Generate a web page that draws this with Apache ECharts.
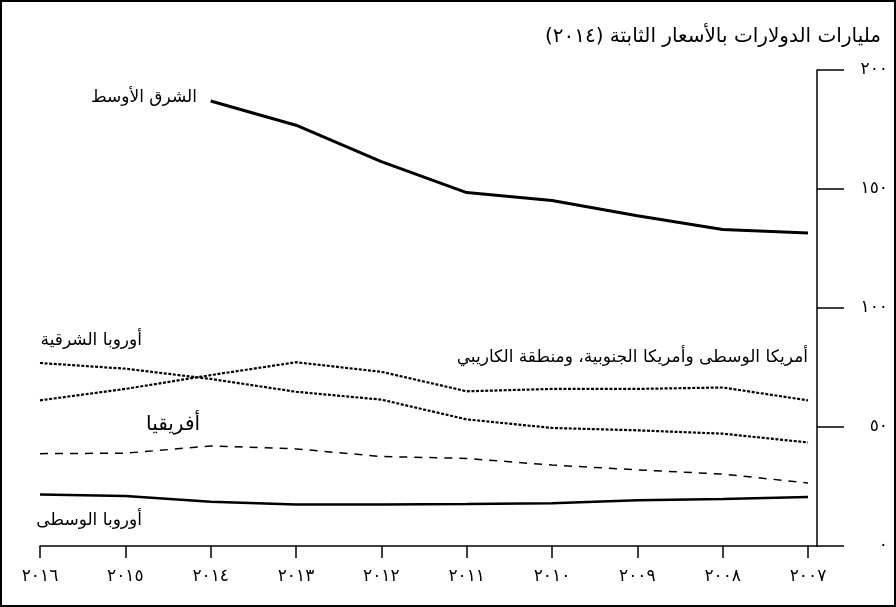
<!DOCTYPE html>
<html lang="ar">
<head>
<meta charset="utf-8">
<script src="https://cdn.jsdelivr.net/npm/echarts@6/dist/echarts.min.js"></script>
<style>
html,body{margin:0;padding:0;background:#fff;}
#chart{width:896px;height:607px;direction:rtl;}
</style>
</head>
<body>
<div id="chart" dir="rtl"></div>
<script>
// ---- data ----
const years = [2016, 2015, 2014, 2013, 2012, 2011, 2010, 2009, 2008, 2007];
const yearLabels = ['٢٠١٦', '٢٠١٥', '٢٠١٤', '٢٠١٣', '٢٠١٢', '٢٠١١', '٢٠١٠', '٢٠٠٩', '٢٠٠٨', '٢٠٠٧'];
const yTicks = [0, 50, 100, 150, 200];
const yTickLabels = ['٠', '٥٠', '١٠٠', '١٥٠', '٢٠٠'];
const title = 'مليارات الدولارات بالأسعار الثابتة (٢٠١٤)';

const middleEastName = 'الشرق الأوسط';
const middleEast = [null, null, 187, 176.8, 161.5, 148.5, 145.2, 138.8, 133, 131.5];
const easternEuropeName = 'أوروبا الشرقية';
const easternEurope = [76.9, 74.5, 70.2, 64.8, 61.5, 53.2, 49.6, 48.6, 47.2, 43.5];
const latinAmericaName = 'أمريكا الوسطى وأمريكا الجنوبية، ومنطقة الكاريبي';
const latinAmerica = [61.2, 66, 71.8, 77.2, 73.2, 65, 66, 66, 66.6, 61.2];
const africaName = 'أفريقيا';
const africa = [38.8, 39, 42, 40.8, 37.6, 36.8, 34, 32, 30.2, 26.5];
const centralEuropeName = 'أوروبا الوسطى';
const centralEurope = [21.6, 21, 18.6, 17.4, 17.4, 17.6, 18, 19.2, 19.8, 20.6];

// ---- chart ----
const FONT = '"DejaVu Sans", sans-serif';
const pairs = arr => years.map((y, i) => [y, arr[i]]);
const yearLabelOf = v => { const i = years.indexOf(Math.round(v)); return i >= 0 ? yearLabels[i] : ''; };
const yLabelOf = v => { const i = yTicks.indexOf(Math.round(v)); return i >= 0 ? yTickLabels[i] : ''; };

function line(name, data, width, type) {
  return {
    name: name, type: 'line', data: pairs(data), symbol: 'none', connectNulls: false,
    lineStyle: { color: '#000', width: width, type: type, cap: 'butt' },
    silent: true, animation: false
  };
}

const chart = echarts.init(document.getElementById('chart'), null, { renderer: 'canvas' });
chart.setOption({
  backgroundColor: '#fff',
  animation: false,
  grid: { left: 40, right: 79, top: 70, bottom: 61, containLabel: false },
  xAxis: {
    type: 'value', inverse: true, min: 2006.8945, max: 2016,
    axisLine: { show: true, lineStyle: { color: '#000', width: 1.5 } },
    axisTick: { show: true, length: 12, customValues: years, lineStyle: { color: '#000', width: 1.5 } },
    axisLabel: { show: true, customValues: years, formatter: yearLabelOf, margin: 22,
      color: '#000', fontSize: 17, fontFamily: FONT },
    splitLine: { show: false }
  },
  yAxis: {
    type: 'value', position: 'right', min: 0, max: 200, interval: 50,
    axisLine: { show: true, lineStyle: { color: '#000', width: 1.5 } },
    axisTick: { show: true, length: 27, lineStyle: { color: '#000', width: 1.5 } },
    axisLabel: { show: true, formatter: yLabelOf, margin: 71, align: 'right',
      color: '#000', fontSize: 17, fontFamily: FONT },
    splitLine: { show: false }
  },
  series: [
    line(middleEastName, middleEast, 3, 'solid'),
    line(easternEuropeName, easternEurope, 2.2, [3, 1.6]),
    line(latinAmericaName, latinAmerica, 2.2, [3, 1.6]),
    line(africaName, africa, 1.5, [8, 7]),
    line(centralEuropeName, centralEurope, 2.5, 'solid')
  ],
  graphic: [
    { type: 'rect', shape: { x: 1, y: 1, width: 894, height: 605 }, style: { fill: 'none', stroke: '#000', lineWidth: 2 }, silent: true },
    { type: 'text', x: 881, y: 37, style: { text: title, align: 'right', verticalAlign: 'middle', font: '20px ' + FONT, fill: '#000' } },
    { type: 'text', x: 197, y: 98, style: { text: middleEastName, align: 'right', verticalAlign: 'middle', font: '17px ' + FONT, fill: '#000' } },
    { type: 'text', x: 142, y: 341, style: { text: easternEuropeName, align: 'right', verticalAlign: 'middle', font: '17px ' + FONT, fill: '#000' } },
    { type: 'text', x: 808, y: 358, style: { text: latinAmericaName, align: 'right', verticalAlign: 'middle', font: '17px ' + FONT, fill: '#000' } },
    { type: 'text', x: 200, y: 425, style: { text: africaName, align: 'right', verticalAlign: 'middle', font: '20px ' + FONT, fill: '#000' } },
    { type: 'text', x: 142, y: 521, style: { text: centralEuropeName, align: 'right', verticalAlign: 'middle', font: '17px ' + FONT, fill: '#000' } }
  ]
});
</script>
</body>
</html>
